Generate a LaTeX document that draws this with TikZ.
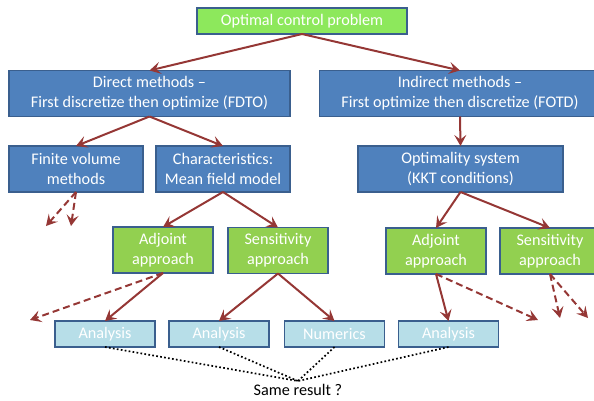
\documentclass[tikz,border=0pt]{standalone}
\usepackage{fontspec}
\setmainfont{Carlito}
\usetikzlibrary{positioning,arrows.meta}

\definecolor{boxblue}{HTML}{4F81BD}
\definecolor{edgeblue}{HTML}{3A5F8E}
\definecolor{topgreen}{HTML}{8DE85C}
\definecolor{midgreen}{HTML}{92D050}
\definecolor{paleblue}{HTML}{B7DEE8}
\definecolor{arrowred}{HTML}{953735}

\tikzset{
	box/.style={draw=edgeblue,line width=1.5pt,text=white,align=center,inner sep=0pt,outer sep=0pt},
	method/.style={box,fill=boxblue,minimum height=46pt},
	approach/.style={box,fill=midgreen,minimum width=100pt,minimum height=46pt},
	result/.style={box,fill=paleblue,minimum width=100pt,minimum height=26pt},
	flow/.style={->,draw=arrowred,line width=2pt},
	branch/.style={flow,dash pattern=on 7pt off 4pt},
	same/.style={draw=black,line width=1.7pt,dash pattern=on 1.7pt off 2.3pt}
}

\begin{document}
\begin{tikzpicture}[x=1pt,y=-1pt,>={Stealth[length=11pt,width=12pt,inset=4.5pt]},font=\fontsize{16.2}{20}\selectfont]
	\useasboundingbox (0,0) rectangle (594,400);

	% top problem
	\node [box,fill=topgreen,minimum width=210pt,minimum height=26pt] at (302,21) (ocp) {Optimal control problem};

	% two families of methods
	\node [method,minimum width=281pt] at (149.5,93.5) (direct) {Direct methods --\\First discretize then optimize (FDTO)};
	\node [method,minimum width=281pt] at (460,93.5) (indirect) {Indirect methods --\\First optimize then discretize (FOTD)};

	\node [method,minimum width=134pt] at (76,169) (fv) {Finite volume\\methods};
	\node [method,minimum width=134pt] at (223,169) (char) {Characteristics:\\Mean field model};
	\node [method,minimum width=205pt] at (460.5,169) (opt) {Optimality system\\(KKT conditions)};

	% adjoint / sensitivity
	\node [approach] at (163,250) (adj_l) {Adjoint\\approach};
	\node [approach] at (278,250.5) (sens_l) {Sensitivity\\approach};
	\node [approach] at (436,251) (adj_r) {Adjoint\\approach};
	\node [approach] at (550,251) (sens_r) {Sensitivity\\approach};

	% results
	\node [result] at (105,334) (ana_0) {Analysis};
	\node [result] at (219,334) (ana_1) {Analysis};
	\node [result] at (334.5,334) (num_0) {Numerics};
	\node [result] at (448.5,334) (ana_2) {Analysis};

	\node [inner sep=0pt] at (298,390) (same) {Same result ?};
	\coordinate (meet) at (298,381);

	% loose ends of the dashed arrows
	\coordinate (fv_0) at (46,226);
	\coordinate (fv_1) at (71,226);
	\coordinate (adj_l_0) at (30,320);
	\coordinate (adj_r_0) at (538,320);
	\coordinate (sens_r_0) at (560,318);
	\coordinate (sens_r_1) at (588,318);

	\draw[flow] (ocp.south) -- (direct.north);
	\draw[flow] (ocp.south) -- (indirect.north);
	\draw[flow] (direct.south) -- (fv.north);
	\draw[flow] (direct.south) -- (char.north);
	\draw[flow] (indirect.south) -- (opt.north);
	\draw[flow] (char.south) -- (adj_l.north);
	\draw[flow] (char.south) -- (sens_l.north);
	\draw[flow] (opt.south) -- (adj_r.north);
	\draw[flow] (opt.south) -- (sens_r.north);
	\draw[flow] (adj_l.south) -- (ana_0.north);
	\draw[flow] (sens_l.south) -- (ana_1.north);
	\draw[flow] (sens_l.south) -- (num_0.north);
	\draw[flow] (adj_r.south) -- (ana_2.north);

	\draw[branch] (fv.south) -- (fv_0);
	\draw[branch] (fv.south) -- (fv_1);
	\draw[branch] (adj_l.south) -- (adj_l_0);
	\draw[branch] (adj_r.south) -- (adj_r_0);
	\draw[branch] (sens_r.south) -- (sens_r_0);
	\draw[branch] (sens_r.south) -- (sens_r_1);

	\draw[same] (ana_0.south) -- (meet);
	\draw[same] (ana_1.south) -- (meet);
	\draw[same] (num_0.south) -- (meet);
	\draw[same] (ana_2.south) -- (meet);
\end{tikzpicture}
\end{document}
